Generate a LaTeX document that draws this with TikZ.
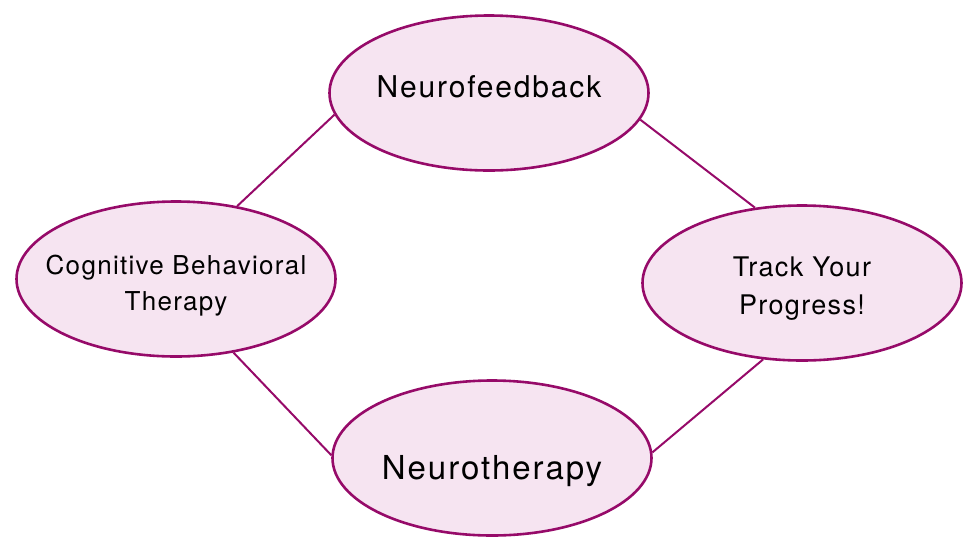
\documentclass[tikz,border=0pt]{standalone}
\usepackage{fontspec}
\setmainfont{TeX Gyre Heros}
\usetikzlibrary{shapes.geometric}
\definecolor{bubbleline}{RGB}{150,10,105}
\definecolor{bubblefill}{RGB}{246,228,241}

\begin{document}
\begin{tikzpicture}[x=1pt, y=-1pt, bubble/.style={ellipse, draw=bubbleline, fill=bubblefill, line width=2.6pt, minimum width=319pt, minimum height=155pt, inner xsep=-20pt, inner ysep=0pt, align=center}, link/.style={draw=bubbleline, line width=2pt}]
	\useasboundingbox (0,0) rectangle (978,558);
	\node[bubble, font=\fontsize{30}{36}\selectfont\addfontfeature{LetterSpace=6}, text depth=12pt] (F) at (489,93) {Neurofeedback};
	\node[bubble, font=\fontsize{26}{36}\selectfont\addfontfeature{LetterSpace=5}, text height=69pt] (C) at (176,279) {Cognitive Behavioral\\Therapy};
	\node[bubble, font=\fontsize{27}{38}\selectfont\addfontfeature{LetterSpace=5}, text height=69pt] (P) at (802,283) {Track Your\\Progress!};
	\node[bubble, font=\fontsize{33}{40}\selectfont\addfontfeature{LetterSpace=6}, text height=42pt, text depth=0pt] (T) at (492,458) {Neurotherapy};
	\draw[link] (C.50) -- (F.188);
	\draw[link] (F.350) -- (P.122);
	\draw[link] (C.308) -- (T.179);
	\draw[link] (P.243) -- (T.2);
\end{tikzpicture}
\end{document}
